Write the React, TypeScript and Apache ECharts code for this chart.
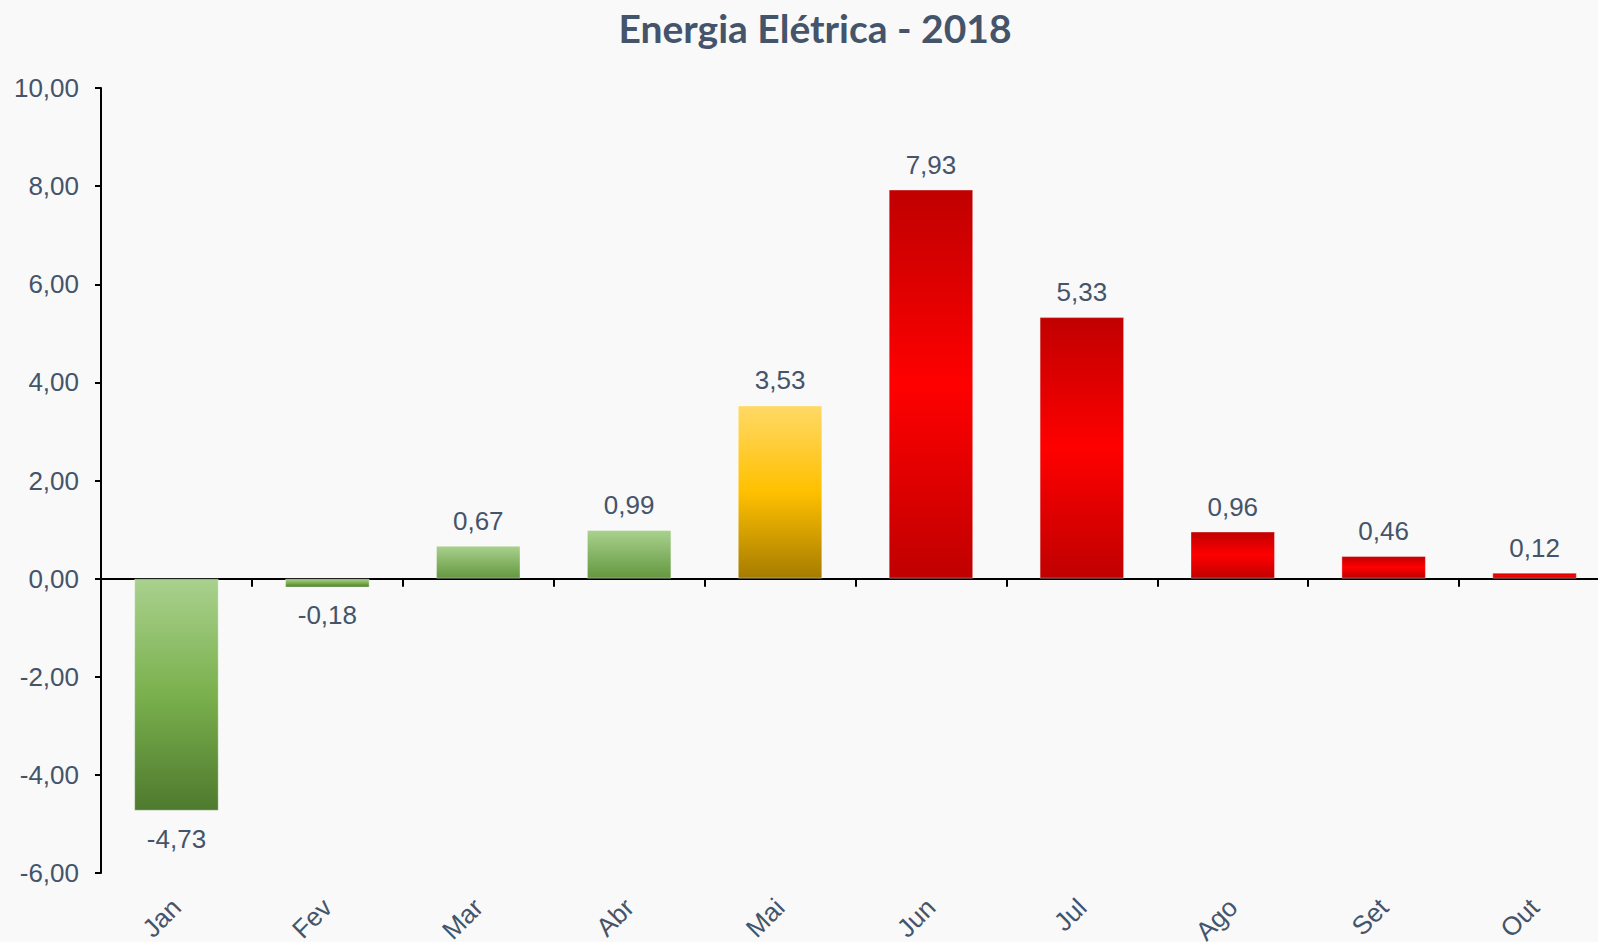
import React, { useEffect, useRef } from "react";
import * as echarts from "echarts";

const title = "Energia Elétrica - 2018";
const months = ["Jan", "Fev", "Mar", "Abr", "Mai", "Jun", "Jul", "Ago", "Set", "Out"];
const values = [-4.73, -0.18, 0.67, 0.99, 3.53, 7.93, 5.33, 0.96, 0.46, 0.12];
const colorGroup = ["green", "green", "green", "green", "yellow", "red", "red", "red", "red", "red"];
const yTicks = { min: -6, max: 10, interval: 2 };

const TEXT = "#44546A";

function grad(kind: string) {
  const g = (stops: [number, string][]) =>
    new echarts.graphic.LinearGradient(0, 0, 0, 1, stops.map(([offset, color]) => ({ offset, color })));
  if (kind === "green") return g([[0, "#A9D18E"], [0.5, "#7AB04D"], [1, "#4E7A2E"]]);
  if (kind === "greenS") return g([[0, "#A9D18E"], [1, "#64983F"]]);
  if (kind === "yellow") return g([[0, "#FFD966"], [0.5, "#FFC000"], [1, "#A67C00"]]);
  return g([[0, "#C00000"], [0.5, "#FF0000"], [1, "#C00000"]]);
}

const fmt = (v: number) => v.toFixed(2).replace(".", ",");

export default function App() {
  const ref = useRef<HTMLDivElement>(null);
  useEffect(() => {
    if (!ref.current) return;
    const chart = echarts.init(ref.current, null, { renderer: "svg" });
    const data = values.map((v, i) => ({
      value: v,
      itemStyle: {
        color: grad(colorGroup[i] === "green" && v > 0 ? "greenS" : colorGroup[i]),
        borderColor: "rgba(255,255,255,0.35)",
        borderWidth: 1,
      },
      label: { position: v < 0 ? "bottom" : "top", distance: v < 0 ? 15 : 12 },
    }));
    chart.setOption({
      animation: false,
      backgroundColor: "#F9F9F9",
      title: {
        text: title,
        left: 810,
        textAlign: "center",
        top: 3,
        textStyle: { fontFamily: "Lato", fontWeight: "bold", fontSize: 39, color: TEXT },
      },
      grid: {
        left: 101,
        top: 88,
        bottom: 69,
        right: -12,
        containLabel: false,
        outerBoundsMode: "none",
      },
      xAxis: [
        {
          type: "category",
          data: months,
          axisLine: { onZero: true, lineStyle: { color: "#000", width: 2 } },
          axisTick: { show: true, length: 8, lineStyle: { color: "#000", width: 2 } },
          axisLabel: { show: false },
        },
        {
          type: "category",
          data: months,
          position: "bottom",
          axisLine: { show: false, onZero: false },
          axisTick: { show: false },
          axisLabel: {
            rotate: 45,
            margin: 30,
            color: TEXT,
            fontFamily: "Liberation Sans",
            fontSize: 26,
          },
        },
      ],
      yAxis: {
        type: "value",
        min: yTicks.min,
        max: yTicks.max,
        interval: yTicks.interval,
        axisLine: { show: true, lineStyle: { color: "#000", width: 2 } },
        axisTick: { show: true, length: 6, lineStyle: { color: "#000", width: 2 } },
        splitLine: { show: false },
        axisLabel: {
          margin: 22,
          color: TEXT,
          fontFamily: "Liberation Sans",
          fontSize: 26,
          formatter: (v: number) => fmt(v),
        },
      },
      series: [
        {
          type: "bar",
          xAxisIndex: 0,
          data,
          barWidth: "56%",
          label: {
            show: true,
            color: TEXT,
            fontFamily: "Liberation Sans",
            fontSize: 26,
            formatter: (p: any) => fmt(p.value),
          },
        },
      ],
    });
    return () => chart.dispose();
  }, []);
  return (
    <div
      ref={ref}
      style={{ position: "absolute", left: 0, top: 0, width: 1598, height: 942 }}
    />
  );
}
